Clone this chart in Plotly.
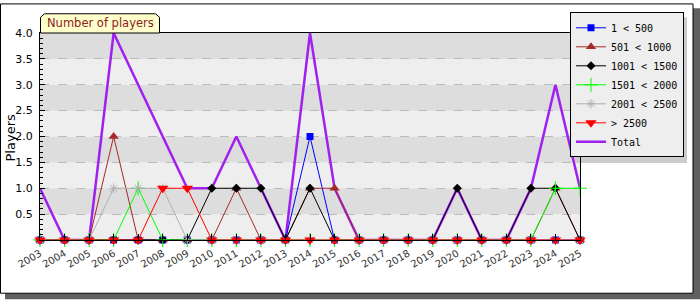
import plotly.graph_objects as go

years = list(range(2003, 2026))
s_1_500 =     [0,0,0,0,0,0,0,0,0,0,0,2,0,0,0,0,0,0,0,0,0,0,0]
s_501_1000 =  [0,0,0,2,0,0,0,0,1,0,0,1,1,0,0,0,0,0,0,0,0,1,0]
s_1001_1500 = [0,0,0,0,0,0,0,1,1,1,0,1,0,0,0,0,0,1,0,0,1,1,0]
s_1501_2000 = [0,0,0,0,1,0,0,0,0,0,0,0,0,0,0,0,0,0,0,0,0,1,1]
s_2001_2500 = [0,0,0,1,1,1,0,0,0,0,0,0,0,0,0,0,0,0,0,0,0,0,0]
s_2500 =      [0,0,0,0,0,1,1,0,0,0,0,0,0,0,0,0,0,0,0,0,0,0,0]
total =       [1,0,0,4,3,2,1,1,2,1,0,4,1,0,0,0,0,1,0,0,1,3,1]

series_names = ["1 &lt; 500", "501 &lt; 1000", "1001 &lt; 1500",
                "1501 &lt; 2000", "2001 &lt; 2500", "&gt; 2500"]
y_ticks = [0.5, 1.0, 1.5, 2.0, 2.5, 3.0, 3.5, 4.0]

# plot area in pixels
L, R, T, B = 40, 580, 30, 240
def px(x):
    return (x - L) / (R - L)
def py(y):
    return (B - y) / (B - T)

fig = go.Figure()

fig.add_trace(go.Scatter(x=years, y=total, mode="lines", name="Total",
                         line=dict(color="#A020F0", width=2.5),
                         legendrank=7, cliponaxis=False))

styles = [
    dict(color="#0000FF", marker=dict(symbol="square", size=7, color="#0000FF")),
    dict(color="#A52A2A", marker=dict(symbol="triangle-up", size=9, color="#A52A2A")),
    dict(color="#000000", marker=dict(symbol="diamond", size=7, color="#000000")),
    dict(color="#00FF00", marker=dict(symbol="cross-thin", size=10,
                                      line=dict(color="#00FF00", width=1))),
    dict(color="#B0B0B0", marker=dict(symbol="asterisk-open", size=8,
                                      line=dict(color="#A0A0A0", width=1))),
    dict(color="#FF0000", marker=dict(symbol="triangle-down", size=10, color="#FF0000")),
]
data = [s_1_500, s_501_1000, s_1001_1500, s_1501_2000, s_2001_2500, s_2500]
for i, (vals, nm, st) in enumerate(zip(data, series_names, styles)):
    fig.add_trace(go.Scatter(x=years, y=vals, mode="lines+markers", name=nm,
                             line=dict(color=st["color"], width=1),
                             marker=st["marker"], legendrank=i + 1,
                             cliponaxis=False))

shapes = []
# outer shadow and frame
shapes.append(dict(type="rect", xref="paper", yref="paper", layer="below",
                   x0=px(5), x1=px(700), y0=py(300), y1=py(5),
                   fillcolor="#606060", line=dict(width=0)))
shapes.append(dict(type="rect", xref="paper", yref="paper", layer="below",
                   x0=px(0.5), x1=px(693), y0=py(294), y1=py(0.5),
                   fillcolor="white", line=dict(color="black", width=1)))
# bands
for k in range(8):
    shapes.append(dict(type="rect", xref="paper", yref="y", layer="below",
                       x0=0, x1=1, y0=k * 0.5, y1=(k + 1) * 0.5,
                       fillcolor="#DDDDDD" if k % 2 else "#EEEEEE",
                       line=dict(width=0)))
# title tab
path = "M {a},{b} L {a},{c} L {d},{e} L {f},{e} L {g},{c} L {g},{b} Z".format(
    a=px(40.5), b=py(30), c=py(14), d=px(44.5), e=py(10.5), f=px(155.5), g=px(159.5))
shapes.append(dict(type="path", xref="paper", yref="paper", path=path,
                   fillcolor="#FFFFCC", line=dict(color="black", width=1)))
# legend shadow
shapes.append(dict(type="rect", xref="paper", yref="paper", layer="below",
                   x0=px(575), x1=px(687), y0=py(162), y1=py(14),
                   fillcolor="#CCCCCC", line=dict(width=0)))

annotations = [
    dict(text="Number of players", xref="paper", yref="paper",
         x=px(100), y=py(20), showarrow=False, xanchor="center", yanchor="middle",
         font=dict(family="DejaVu Sans", size=11.5, color="#8B2323")),
    dict(text="Players", xref="paper", yref="paper", x=px(10), y=py(137),
         showarrow=False, textangle=-90, xanchor="center", yanchor="middle",
         font=dict(family="DejaVu Sans", size=13, color="black")),
]

fig.update_layout(
    width=700, height=300, autosize=False,
    margin=dict(l=L, r=700 - R, t=T, b=300 - B, pad=0),
    paper_bgcolor="white", plot_bgcolor="#EEEEEE",
    shapes=shapes, annotations=annotations,
    showlegend=True,
    legend=dict(x=px(570), y=py(9), xanchor="left", yanchor="top",
                bgcolor="#EEEEEE", bordercolor="black", borderwidth=1,
                font=dict(family="DejaVu Sans Mono", size=10, color="black"),
                itemwidth=30, tracegroupgap=0),
    xaxis=dict(range=[2003, 2025], tickmode="array", tickvals=years,
               ticktext=[str(y) for y in years], tickangle=-30,
               ticks="inside", ticklen=6, tickcolor="black",
               showgrid=False, zeroline=False, showline=True, linecolor="black",
               linewidth=1, mirror=True, ticklabelstandoff=3,
               tickfont=dict(family="DejaVu Sans", size=10, color="#333333")),
    yaxis=dict(range=[0, 4], tickmode="array", tickvals=y_ticks,
               ticktext=["%.1f" % v for v in y_ticks],
               ticks="inside", ticklen=5, tickcolor="black",
               minor=dict(ticks="inside", ticklen=3, dtick=0.1, tickcolor="black",
                          showgrid=False),
               showgrid=True, gridcolor="#BBBBBB", griddash="dash", gridwidth=1,
               zeroline=False, showline=True, linecolor="black", linewidth=1,
               mirror=True, ticklabelstandoff=4,
               tickfont=dict(family="DejaVu Sans", size=11, color="black")),
)

fig.write_html("out.html")
